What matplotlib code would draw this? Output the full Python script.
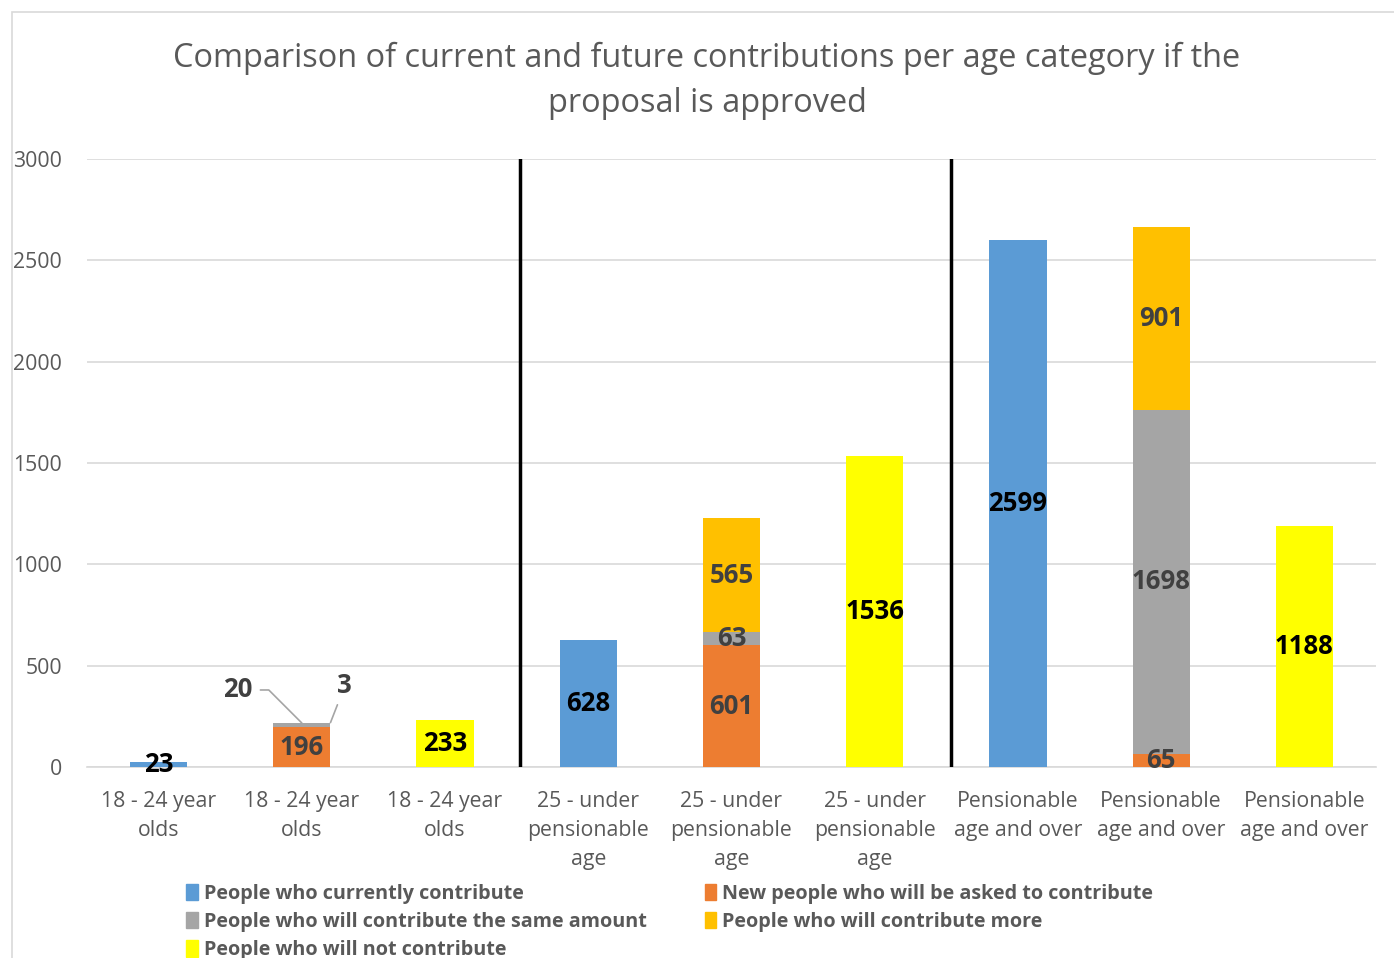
import matplotlib
matplotlib.use("Agg")
import matplotlib.pyplot as plt
from matplotlib.patches import Rectangle, Patch
import numpy as np

plt.rcParams['font.family'] = ['Open Sans', 'DejaVu Sans']

##---------------- data
categories = ["18 - 24 year\nolds", "18 - 24 year\nolds", "18 - 24 year\nolds",
              "25 - under\npensionable\nage", "25 - under\npensionable\nage", "25 - under\npensionable\nage",
              "Pensionable\nage and over", "Pensionable\nage and over", "Pensionable\nage and over"]
current = [23, 0, 0, 628, 0, 0, 2599, 0, 0]
new_people = [0, 196, 0, 0, 601, 0, 0, 65, 0]
same_amount = [0, 20, 0, 0, 63, 0, 0, 1698, 0]
more = [0, 3, 0, 0, 565, 0, 0, 901, 0]
not_contrib = [0, 0, 233, 0, 0, 1536, 0, 0, 1188]

series_names = ["People who currently contribute",
                "New people who will be asked to contribute",
                "People who will contribute the same amount",
                "People who will contribute more",
                "People who will not contribute"]
series_vals = [current, new_people, same_amount, more, not_contrib]
colors = ["#5B9BD5", "#ED7D31", "#A5A5A5", "#FFC000", "#FFFF00"]
label_colors = ["black", "#404040", "#404040", "#404040", "black"]

yticks = [0, 500, 1000, 1500, 2000, 2500, 3000]

W, H = 1394, 958
fig = plt.figure(figsize=(W / 100, H / 100), dpi=100)
ax = fig.add_axes([87 / W, 1 - 767 / H, (1376 - 87) / W, (767 - 159) / H])

# chart border
fig.patches.append(Rectangle((12 / W, -0.1), 1.2, 1 - 12 / H + 0.1, transform=fig.transFigure,
                             fill=False, edgecolor="#D9D9D9", linewidth=1.2))

x = np.arange(len(categories))
bottom = np.zeros(len(categories))
for name, vals, c, lc in zip(series_names, series_vals, colors, label_colors):
    vals = np.array(vals, dtype=float)
    ax.bar(x, vals, width=0.4, bottom=bottom, color=c, label=name, zorder=3)
    for i, v in enumerate(vals):
        if v == 0:
            continue
        if i == 1 and name in (series_names[2], series_names[3]):
            continue  # drawn with leader lines below
        ax.text(x[i], bottom[i] + v / 2, f"{int(v)}", ha="center", va="center",
                fontsize=18.5, fontweight="bold", color=lc, zorder=5)
    bottom += vals

# small labels with leader lines
top1 = new_people[1] + same_amount[1] + more[1]
ax.annotate(f"{same_amount[1]}", xy=(x[1], top1 - 2), xytext=(x[1] - 0.45, 380),
            ha="center", va="center", fontsize=18.5, fontweight="bold", color="#404040",
            arrowprops=dict(arrowstyle="-", color="#A5A5A5", lw=1.2, shrinkA=4, shrinkB=0,
                            connectionstyle="angle,angleA=0,angleB=135,rad=0"))
ax.annotate(f"{more[1]}", xy=(x[1] + 0.2, top1), xytext=(x[1] + 0.3, 400),
            ha="center", va="center", fontsize=18.5, fontweight="bold", color="#404040",
            arrowprops=dict(arrowstyle="-", color="#A5A5A5", lw=1.2, shrinkA=2, shrinkB=0))

# group separators
for sx in (2.52, 5.53):
    ax.plot([sx, sx], [0, 3000], color="black", lw=2.5, zorder=4)

ax.set_xlim(-0.5, 8.5)
ax.set_ylim(0, 3000)
ax.set_yticks(yticks)
ax.set_yticklabels([str(t) for t in yticks])
ax.set_xticks(x)
ax.set_xticklabels(categories, linespacing=1.5)
ax.tick_params(axis="both", length=0, labelsize=15.3, labelcolor="#595959")
ax.tick_params(axis="x", pad=17)
ax.tick_params(axis="y", pad=18)
ax.grid(axis="y", color="#D9D9D9", lw=1.2, zorder=0)
for s in ("top", "right", "left"):
    ax.spines[s].set_visible(False)
ax.spines["bottom"].set_color("#D9D9D9")
ax.spines["bottom"].set_linewidth(1.2)

fig.text(707 / W, 1 - 81 / H,
         "Comparison of current and future contributions per age category if the\nproposal is approved",
         ha="center", va="center", fontsize=23.4, color="#595959", linespacing=1.45)

handles = [Patch(color=c) for c in colors]
order = [0, 2, 4, 1, 3]
leg = fig.legend([handles[i] for i in order], [series_names[i] for i in order],
                 ncol=2, loc="upper left", bbox_to_anchor=(168 / W, 1 - 866 / H),
                 frameon=False, handlelength=0.6, handleheight=0.9, handletextpad=0.3,
                 columnspacing=2.95, labelspacing=0.42,
                 prop=dict(weight="bold", size=14.2))
for t in leg.get_texts():
    t.set_color("#595959")

fig.savefig("out.png", dpi=100)
